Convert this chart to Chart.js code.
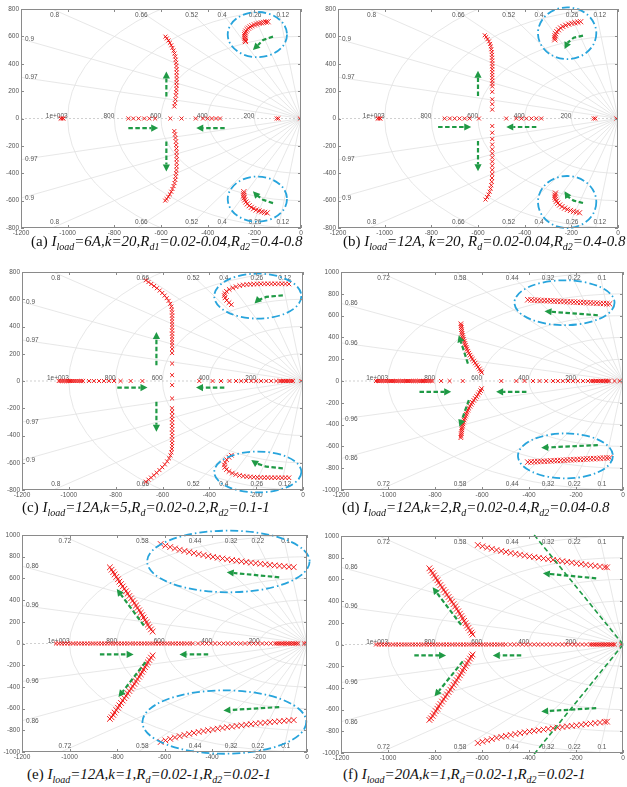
<!DOCTYPE html>
<html lang="en">
<head>
<meta charset="UTF-8" />
<title>Root loci for different load and droop settings</title>
<script src="https://cdn.jsdelivr.net/npm/chart.js"></script>
<style>
  body { margin: 0; width: 627px; height: 787px; background: #fff; overflow: hidden; position: relative; }
  canvas { position: absolute; }
  .cap { position: absolute; font-family: "Liberation Serif", "Times New Roman", serif; font-size: 15px; line-height: 17px; white-space: nowrap; color: #111; }
  .cap sub { font-size: 10px; line-height: 0; }
</style>
</head>
<body>
<canvas id="pa"></canvas>
<canvas id="pb"></canvas>
<canvas id="pc"></canvas>
<canvas id="pd"></canvas>
<canvas id="pe"></canvas>
<canvas id="pf"></canvas>

<div class="cap" style="left:31px;top:233px">(a) <i>I<sub>load</sub>=6A,k=20,R<sub>d1</sub>=0.02-0.04,R<sub>d2</sub>=0.4-0.8</i></div>
<div class="cap" style="left:343px;top:233px">(b) <i>I<sub>load</sub>=12A, k=20, R<sub>d</sub>=0.02-0.04,R<sub>d2</sub>=0.4-0.8</i></div>
<div class="cap" style="left:22px;top:499px">(c) <i>I<sub>load</sub>=12A,k=5,R<sub>d</sub>=0.02-0.2,R<sub>d2</sub>=0.1-1</i></div>
<div class="cap" style="left:342px;top:499px">(d) <i>I<sub>load</sub>=12A,k=2,R<sub>d</sub>=0.02-0.4,R<sub>d2</sub>=0.04-0.8</i></div>
<div class="cap" style="left:27px;top:766px">(e) <i>I<sub>load</sub>=12A,k=1,R<sub>d</sub>=0.02-1,R<sub>d2</sub>=0.02-1</i></div>
<div class="cap" style="left:343px;top:766px">(f) <i>I<sub>load</sub>=20A,k=1,R<sub>d</sub>=0.02-1,R<sub>d2</sub>=0.02-1</i></div>

<script>
// axes
const xTicks = [-1200, -1000, -800, -600, -400, -200, 0];
const yTicks800 = [-800, -600, -400, -200, 0, 200, 400, 600, 800];
const yTicks1000 = [-1000, -800, -600, -400, -200, 0, 200, 400, 600, 800, 1000];
const wnRings = [200, 400, 600, 800, 1000];
const zetaAC = [0.12, 0.26, 0.4, 0.52, 0.66, 0.8, 0.9, 0.97];
const zetaDF = [0.1, 0.22, 0.32, 0.44, 0.58, 0.72, 0.86, 0.96];

// (a)
const aReal = [-1030, -1024, -1018, -740, -719, -696, -672, -650, -625, -560, -512, -451, -420, -400, -382, -364, -347, -104, -97, -5];
const aUp = [[-581,598],[-575,585],[-568,570],[-562,553],[-556,535],[-551,516],[-546,496],[-542,475],[-539,453],[-537,430],[-535,407],[-534,384],[-533,360],[-533,336],[-533,312],[-533,288],[-533,264],[-533,240],[-534,216],[-535,192],[-536,168],[-538,140],[-540,112],[-543,88]];
const aLow = [[-543,-92],[-540,-116],[-538,-142],[-536,-168],[-535,-194],[-534,-220],[-533,-246],[-533,-272],[-533,-298],[-533,-324],[-533,-350],[-534,-376],[-535,-400],[-537,-424],[-539,-448],[-542,-472],[-546,-494],[-551,-515],[-556,-535],[-562,-554],[-569,-572],[-576,-588],[-582,-600]];
const aArcUp = [[-141,707],[-150,705],[-160,702],[-170,699],[-180,695],[-190,690],[-200,684],[-210,677],[-218,669],[-225,660],[-231,650],[-236,638],[-239,625],[-241,612],[-241,598],[-240,585],[-239,572],[-238,562]];
const aArcLow = [[-245,-535],[-246,-550],[-246,-565],[-244,-580],[-241,-595],[-236,-610],[-230,-624],[-222,-637],[-213,-649],[-203,-659],[-192,-668],[-180,-675],[-168,-681],[-156,-686],[-145,-690]];
const aRings = [[-187,613,127,165],[-187,-589,127,165]];
const aArrows = [
  [[-740,-70],[-612,-70]],
  [[-327,-70],[-449,-70]],
  [[-577,160],[-577,343]],
  [[-577,-168],[-577,-387]],
  [[-120,598],[-162,574],[-184,537],[-206,500]],
  [[-120,-618],[-163,-594],[-192,-557],[-206,-532]]
];

// (b)
const bReal = [-1030, -1024, -1018, -743, -721, -700, -679, -657, -636, -596, -479, -436, -414, -393, -371, -350, -329, -104, -97, -7];
const bUp = [[-571,608],[-565,595],[-559,580],[-553,563],[-548,545],[-545,526],[-543,506],[-541,486],[-540,465],[-540,444],[-539,423],[-539,402],[-539,381],[-539,360],[-539,339],[-539,318],[-539,297],[-539,276],[-539,255],[-539,234],[-539,195],[-539,140],[-539,105],[-539,65]];
const bLow = [[-539,-55],[-539,-104],[-539,-150],[-539,-190],[-539,-225],[-539,-255],[-539,-285],[-539,-315],[-539,-345],[-539,-375],[-539,-405],[-540,-435],[-541,-462],[-543,-488],[-546,-512],[-550,-535],[-555,-556],[-561,-575],[-568,-592]];
const bArcUp = [[-160,707],[-172,704],[-185,700],[-198,695],[-211,689],[-224,681],[-236,672],[-246,661],[-255,648],[-262,634],[-267,619],[-270,604],[-271,589],[-271,575]];
const bArcLow = [[-268,-545],[-270,-560],[-270,-575],[-268,-590],[-264,-605],[-258,-619],[-250,-632],[-240,-644],[-229,-655],[-217,-664],[-204,-672],[-191,-679],[-178,-684],[-165,-689]];
const bRings = [[-218,623,125,189],[-218,-610,125,190]];
const bArrows = [
  [[-771,-62],[-629,-62]],
  [[-350,-62],[-479,-62]],
  [[-600,165],[-600,348]],
  [[-600,-165],[-600,-385]],
  [[-150,605],[-190,590],[-215,555],[-229,507]],
  [[-150,-617],[-190,-600],[-215,-570],[-229,-531]]
];

// (c)
const cReal = [-1043, -1035, -1027, -1019, -1011, -1003, -995, -987, -979, -971, -963, -955, -947, -939, -914, -893, -871, -850, -829, -807, -779, -736, -686, -443, -386, -350, -314, -286, -264, -243, -221, -200, -179, -157, -136, -114, -100, -93, -86, -79, -72, -65, -58, -50, -43, -7];
const cUp = [[-671,739],[-660,726],[-648,712],[-636,697],[-624,681],[-612,664],[-601,646],[-591,627],[-582,608],[-574,588],[-567,567],[-562,546],[-560,524],[-559,502],[-559,480],[-559,458],[-559,436],[-559,414],[-559,392],[-559,370],[-559,348],[-559,326],[-559,304],[-559,282],[-559,260],[-559,235],[-559,205],[-559,128],[-559,43]];
const cLow = [[-559,-30],[-559,-128],[-559,-200],[-559,-228],[-559,-255],[-559,-280],[-559,-305],[-559,-330],[-559,-355],[-559,-380],[-559,-405],[-559,-430],[-559,-455],[-559,-478],[-560,-500],[-562,-524],[-566,-546],[-572,-568],[-580,-590],[-590,-612],[-601,-633],[-613,-654],[-625,-674],[-637,-692],[-649,-709],[-660,-724],[-671,-739]];
const cArcUp = [[-60,712],[-75,713],[-90,713],[-105,713],[-120,713],[-135,713],[-150,713],[-165,713],[-180,713],[-195,712],[-210,711],[-225,710],[-240,708],[-255,705],[-270,700],[-286,692],[-300,683],[-315,672],[-327,658],[-334,643],[-336,627],[-333,610],[-326,592],[-316,575],[-306,560]];
const cArcLow = [[-306,-545],[-316,-560],[-326,-578],[-333,-597],[-336,-616],[-334,-634],[-327,-650],[-316,-664],[-302,-676],[-287,-686],[-271,-693],[-255,-698],[-240,-702],[-225,-704],[-210,-706],[-195,-707],[-180,-708],[-165,-709],[-150,-709],[-135,-710],[-120,-710],[-105,-710],[-90,-710],[-75,-710],[-60,-710]];
const cRings = [[-193,623,186,165],[-193,-668,186,150]];
const cArrows = [
  [[-793,-48],[-664,-48]],
  [[-336,-48],[-457,-48]],
  [[-626,116],[-626,360]],
  [[-626,-153],[-626,-372]],
  [[-86,629],[-157,617],[-193,592],[-207,568]],
  [[-86,-641],[-157,-629],[-200,-604],[-221,-580]]
];

// (d)
const dReal = [-1051, -1043, -1035, -1027, -1019, -1011, -1003, -995, -987, -979, -971, -963, -955, -947, -939, -931, -923, -915, -907, -899, -891, -883, -875, -867, -859, -851, -843, -835, -827, -819, -811, -774, -738, -682, -518, -454, -419, -383, -355, -327, -298, -277, -256, -234, -213, -192, -170, -149, -135, -128, -121, -114, -107, -100, -93, -86, -79, -72, -65, -58, -36, -14];
const dUp = [[-690,525],[-689,507],[-688,489],[-687,471],[-686,453],[-685,435],[-683,417],[-681,399],[-679,381],[-676,363],[-673,345],[-670,327],[-667,309],[-664,291],[-660,273],[-656,255],[-651,237],[-646,219],[-641,201],[-635,183],[-629,165],[-623,147],[-617,129],[-611,111],[-606,93],[-602,78]];
const dLow = [[-602,-70],[-606,-88],[-611,-106],[-617,-124],[-623,-142],[-629,-160],[-635,-178],[-641,-196],[-646,-214],[-651,-232],[-656,-250],[-660,-268],[-664,-286],[-667,-304],[-670,-322],[-673,-340],[-676,-358],[-679,-376],[-681,-394],[-683,-412],[-685,-430],[-686,-448],[-687,-466],[-688,-484],[-689,-502],[-690,-520]];
const dBandUp = [[-405,745],[-391,744],[-377,742],[-363,741],[-349,739],[-335,738],[-321,736],[-307,735],[-293,733],[-279,732],[-265,730],[-251,729],[-237,727],[-223,726],[-209,724],[-195,723],[-181,721],[-167,720],[-153,718],[-139,717],[-125,715],[-111,714],[-97,712],[-83,711],[-69,709],[-57,708]];
const dBandLow = [[-405,-744],[-391,-742],[-377,-741],[-363,-739],[-349,-738],[-335,-736],[-321,-735],[-307,-733],[-293,-731],[-279,-730],[-265,-728],[-251,-727],[-237,-725],[-223,-723],[-209,-722],[-195,-720],[-181,-719],[-167,-717],[-153,-715],[-139,-714],[-125,-712],[-111,-711],[-97,-709],[-83,-707],[-69,-706],[-57,-705]];
const dRings = [[-249,718,213,206],[-245,-687,202,206]];
const dArrows = [
  [[-866,-99],[-731,-99]],
  [[-411,-99],[-540,-99]],
  [[-660,160],[-699,420]],
  [[-656,-175],[-696,-420]],
  [[-107,603],[-334,640]],
  [[-107,-588],[-348,-612]]
];

// (e)
const eReal = [-1057, -1045, -1033, -1021, -1009, -997, -985, -973, -961, -949, -937, -925, -913, -901, -889, -877, -865, -853, -841, -829, -817, -805, -793, -781, -769, -757, -745, -733, -721, -709, -697, -685, -673, -661, -649, -637, -625, -613, -601, -589, -577, -565, -553, -541, -529, -517, -505, -493, -481, -459, -441, -423, -405, -387, -369, -351, -333, -315, -297, -279, -261, -243, -225, -207, -189, -171, -153, -135, -128, -121, -114, -107, -100, -93, -86, -79, -72, -65, -58, -51, -44, -37, -12, -3];
const eUp = [[-830,702],[-823,680],[-816,658],[-810,636],[-803,614],[-796,592],[-790,570],[-783,548],[-776,526],[-769,504],[-762,482],[-755,460],[-748,438],[-741,416],[-734,394],[-727,372],[-720,350],[-714,328],[-707,306],[-700,284],[-694,262],[-688,240],[-682,218],[-676,196],[-670,174],[-664,152],[-657,130],[-650,110]];
const eLow = [[-650,-110],[-657,-130],[-664,-152],[-670,-174],[-676,-196],[-682,-218],[-688,-240],[-694,-262],[-700,-284],[-707,-306],[-714,-328],[-720,-350],[-727,-372],[-734,-394],[-741,-416],[-748,-438],[-755,-460],[-762,-482],[-769,-504],[-776,-526],[-783,-548],[-790,-570],[-796,-592],[-803,-614],[-810,-636],[-816,-658],[-823,-680],[-830,-695]];
const eBandUp = [[-616,917],[-596,902],[-576,889],[-556,876],[-536,864],[-516,853],[-496,843],[-476,833],[-456,824],[-436,815],[-416,806],[-396,798],[-376,790],[-356,783],[-336,776],[-316,769],[-296,763],[-276,757],[-256,751],[-236,745],[-216,740],[-196,735],[-176,730],[-156,725],[-136,720],[-116,716],[-96,711],[-76,707],[-56,703]];
const eBandLow = [[-616,-908],[-596,-893],[-576,-879],[-556,-866],[-536,-854],[-516,-843],[-496,-833],[-476,-824],[-456,-815],[-436,-807],[-416,-799],[-396,-792],[-376,-785],[-356,-778],[-336,-772],[-316,-766],[-296,-760],[-276,-754],[-256,-748],[-236,-743],[-216,-738],[-196,-733],[-176,-729],[-156,-725],[-136,-721],[-116,-717],[-96,-713],[-76,-709],[-56,-706]];
const eRings = [[-331,756,342,284],[-348,-724,345,292]];
const eArrows = [
  [[-872,-101],[-730,-101]],
  [[-416,-101],[-537,-101]],
  [[-687,166],[-801,503]],
  [[-680,-172],[-794,-494]],
  [[-117,610],[-338,656]],
  [[-117,-586],[-352,-617]]
];

// (f)
const fReal = [-1051, -1039, -1027, -1015, -1003, -991, -979, -967, -955, -943, -931, -919, -907, -895, -883, -871, -859, -847, -835, -823, -811, -799, -787, -775, -763, -751, -739, -727, -715, -703, -691, -679, -667, -655, -643, -631, -619, -607, -595, -583, -571, -559, -547, -535, -523, -511, -499, -480, -463, -446, -429, -412, -395, -378, -361, -344, -327, -310, -293, -276, -259, -242, -225, -208, -191, -174, -157, -140, -133, -126, -119, -112, -105, -98, -91, -84, -77, -70, -63, -56, -49, -42, -35, -8];
const fUp = [[-824,702],[-817,680],[-810,658],[-804,636],[-797,614],[-790,592],[-784,570],[-777,548],[-770,526],[-763,504],[-756,482],[-749,460],[-742,438],[-735,416],[-728,394],[-721,372],[-714,350],[-708,328],[-701,306],[-694,284],[-688,262],[-682,240],[-676,218],[-670,196],[-664,174],[-658,152],[-651,130],[-645,110],[-640,92]];
const fLow = [[-640,-92],[-645,-110],[-651,-130],[-658,-152],[-664,-174],[-670,-196],[-676,-218],[-682,-240],[-688,-262],[-694,-284],[-701,-306],[-708,-328],[-714,-350],[-721,-372],[-728,-394],[-735,-416],[-742,-438],[-749,-460],[-756,-482],[-763,-504],[-770,-526],[-777,-548],[-784,-570],[-790,-592],[-797,-614],[-804,-636],[-810,-658],[-817,-680],[-824,-695]];
const fBandUp = [[-618,917],[-598,905],[-578,893],[-558,882],[-538,871],[-518,862],[-498,853],[-478,844],[-458,836],[-438,828],[-418,820],[-398,812],[-378,805],[-358,799],[-338,793],[-318,786],[-298,780],[-278,774],[-258,768],[-238,762],[-218,755],[-198,748],[-178,742],[-158,736],[-138,730],[-118,724],[-98,718],[-78,713],[-68,711]];
const fBandLow = [[-618,-908],[-598,-896],[-578,-884],[-558,-872],[-538,-861],[-518,-851],[-498,-842],[-478,-833],[-458,-825],[-438,-817],[-418,-809],[-398,-802],[-378,-796],[-358,-790],[-338,-784],[-318,-778],[-298,-772],[-278,-766],[-258,-760],[-238,-755],[-218,-750],[-198,-745],[-178,-739],[-158,-734],[-138,-729],[-118,-724],[-98,-719],[-78,-713],[-68,-711]];
const fArrows = [
  [[-888,-101],[-753,-101]],
  [[-433,-101],[-554,-101]],
  [[-689,181],[-810,527]],
  [[-682,-156],[-802,-478]],
  [[-114,610],[-341,656]],
  [[-114,-586],[-348,-617]]
];
const fLines = [[[0,0],[-380,1015]], [[0,0],[-380,-1015]]];

// layout of the panels: plot box [left, top, right, bottom] in page pixels
const YW = 20, XH = 12, PT = 8, PR = 10;
const tickFont = { size: 6.5, family: '"Liberation Sans", Arial, sans-serif' };

const sgridPlugin = {
  id: 'sgrid',
  beforeDatasetsDraw(chart, args, opts) {
    const { ctx, chartArea: a, scales: { x, y } } = chart;
    const ox = x.getPixelForValue(0), oy = y.getPixelForValue(0);
    ctx.save();
    ctx.beginPath(); ctx.rect(a.left, a.top, a.right - a.left, a.bottom - a.top); ctx.clip();
    ctx.strokeStyle = '#e1e1e1'; ctx.lineWidth = 0.8;
    wnRings.forEach(w => {
      const rx = ox - x.getPixelForValue(-w), ry = oy - y.getPixelForValue(w);
      ctx.beginPath(); ctx.ellipse(ox, oy, rx, ry, 0, Math.PI / 2, Math.PI * 1.5); ctx.stroke();
    });
    opts.zetas.forEach(z => {
      const s = Math.sqrt(1 - z * z);
      [1, -1].forEach(sg => {
        ctx.beginPath(); ctx.moveTo(ox, oy);
        ctx.lineTo(x.getPixelForValue(-z * 5000), y.getPixelForValue(sg * s * 5000));
        ctx.stroke();
      });
    });
    ctx.setLineDash([2, 2]); ctx.strokeStyle = '#c4c4c4';
    ctx.beginPath(); ctx.moveTo(a.left, oy); ctx.lineTo(a.right, oy); ctx.stroke();
    ctx.restore();

    ctx.save();
    ctx.font = '6.5px "Liberation Sans", Arial, sans-serif';
    ctx.fillStyle = '#555';
    ctx.textAlign = 'right'; ctx.textBaseline = 'alphabetic';
    wnRings.forEach(w => ctx.fillText(w >= 1000 ? '1e+003' : String(w), x.getPixelForValue(-w), oy - 1));
    ctx.textBaseline = 'middle'; ctx.textAlign = 'left';
    opts.zetas.forEach(z => {
      const s = Math.sqrt(1 - z * z);
      const xt = -y.max * z / s;
      if (xt >= x.min) {
        const px = x.getPixelForValue(xt) - 2;
        ctx.fillText(String(z), px, a.top + 6);
        ctx.fillText(String(z), px, a.bottom - 6);
      } else {
        const yl = -x.min * s / z;
        ctx.fillText(String(z), a.left + 4, y.getPixelForValue(yl));
        ctx.fillText(String(z), a.left + 4, y.getPixelForValue(-yl));
      }
    });
    ctx.restore();
  }
};

const marksPlugin = {
  id: 'marks',
  afterDatasetsDraw(chart, args, opts) {
    const { ctx, scales: { x, y } } = chart;
    const P = p => [x.getPixelForValue(p[0]), y.getPixelForValue(p[1])];
    ctx.save();
    ctx.strokeStyle = '#27a4dc'; ctx.lineWidth = 1.8;
    ctx.setLineDash([8, 3, 1.5, 3]);
    (opts.rings || []).forEach(r => {
      const c = P([r[0], r[1]]);
      const rx = Math.abs(x.getPixelForValue(r[0] + r[2]) - c[0]);
      const ry = Math.abs(y.getPixelForValue(r[1] + r[3]) - c[1]);
      ctx.beginPath(); ctx.ellipse(c[0], c[1], rx, ry, 0, 0, Math.PI * 2); ctx.stroke();
    });
    ctx.strokeStyle = '#1f9a45'; ctx.fillStyle = '#1f9a45';
    ctx.lineWidth = 1.6; ctx.setLineDash([5, 3]);
    (opts.lines || []).forEach(l => {
      const p0 = P(l[0]), p1 = P(l[1]);
      ctx.beginPath(); ctx.moveTo(p0[0], p0[1]); ctx.lineTo(p1[0], p1[1]); ctx.stroke();
    });
    ctx.lineWidth = 2.2;
    (opts.arrows || []).forEach(pts => {
      const px = pts.map(P);
      const n = px.length;
      const [ex, ey] = px[n - 1], [sx, sy] = px[n - 2];
      const ang = Math.atan2(ey - sy, ex - sx);
      const hl = 7, hw = 3.6;
      ctx.setLineDash([4.5, 2.5]);
      ctx.beginPath(); ctx.moveTo(px[0][0], px[0][1]);
      for (let i = 1; i < n - 1; i++) ctx.lineTo(px[i][0], px[i][1]);
      ctx.lineTo(ex - hl * Math.cos(ang), ey - hl * Math.sin(ang));
      ctx.stroke();
      ctx.setLineDash([]);
      ctx.beginPath();
      ctx.moveTo(ex, ey);
      ctx.lineTo(ex - hl * Math.cos(ang) - hw * Math.sin(ang), ey - hl * Math.sin(ang) + hw * Math.cos(ang));
      ctx.lineTo(ex - hl * Math.cos(ang) + hw * Math.sin(ang), ey - hl * Math.sin(ang) - hw * Math.cos(ang));
      ctx.closePath(); ctx.fill();
    });
    ctx.restore();
  },
  afterDraw(chart) {
    const { ctx, chartArea: a, scales: { x, y } } = chart;
    ctx.save();
    ctx.strokeStyle = '#8a8a8a'; ctx.lineWidth = 1;
    ctx.strokeRect(a.left + 0.5, a.top + 0.5, a.right - a.left - 1, a.bottom - a.top - 1);
    ctx.beginPath();
    x.ticks.forEach(t => {
      const px = Math.round(x.getPixelForValue(t.value)) + 0.5;
      ctx.moveTo(px, a.bottom); ctx.lineTo(px, a.bottom - 3);
      ctx.moveTo(px, a.top); ctx.lineTo(px, a.top + 3);
    });
    y.ticks.forEach(t => {
      const py = Math.round(y.getPixelForValue(t.value)) + 0.5;
      ctx.moveTo(a.left, py); ctx.lineTo(a.left + 3, py);
      ctx.moveTo(a.right, py); ctx.lineTo(a.right - 3, py);
    });
    ctx.stroke();
    ctx.restore();
  }
};

function toPts(arr) {
  return arr.map(p => Array.isArray(p) ? { x: p[0], y: p[1] } : { x: p, y: 0 });
}

function makePanel(id, box, yLim, zetas, sets, rings, arrows, lines) {
  const [L, T, R, B] = box;
  const cv = document.getElementById(id);
  cv.width = R - L + YW + PR;
  cv.height = B - T + PT + XH;
  cv.style.left = (L - YW) + 'px';
  cv.style.top = (T - PT) + 'px';
  const yTicks = yLim === 800 ? yTicks800 : yTicks1000;
  new Chart(cv, {
    type: 'scatter',
    data: {
      datasets: sets.map(s => ({
        data: toPts(s[0]),
        pointStyle: 'crossRot',
        pointRadius: s[1],
        borderColor: 'rgba(240,10,10,0.9)',
        backgroundColor: 'rgba(0,0,0,0)',
        borderWidth: 1,
        showLine: false
      }))
    },
    options: {
      responsive: false,
      animation: false,
      events: [],
      layout: { padding: { left: 0, top: PT, right: PR, bottom: 0 } },
      plugins: {
        legend: { display: false },
        tooltip: { enabled: false },
        sgrid: { zetas: zetas },
        marks: { rings: rings, arrows: arrows, lines: lines }
      },
      scales: {
        x: {
          type: 'linear', min: -1200, max: 0,
          afterBuildTicks: s => { s.ticks = xTicks.map(v => ({ value: v })); },
          afterFit: s => { s.height = XH; },
          grid: { display: false, drawTicks: false, tickLength: 0 }, border: { display: false },
          ticks: { font: tickFont, color: '#555', padding: 1, maxRotation: 0, autoSkip: false, callback: v => String(v) }
        },
        y: {
          type: 'linear', min: -yLim, max: yLim,
          afterBuildTicks: s => { s.ticks = yTicks.map(v => ({ value: v })); },
          afterFit: s => { s.width = YW; },
          grid: { display: false, drawTicks: false, tickLength: 0 }, border: { display: false },
          ticks: { font: tickFont, color: '#555', padding: 2, autoSkip: false, callback: v => String(v) }
        }
      }
    },
    plugins: [sgridPlugin, marksPlugin]
  });
}

makePanel('pa', [21, 9, 301, 228], 800, zetaAC,
  [[aReal, 2.8], [aUp, 2.8], [aLow, 2.8], [aArcUp, 3.6], [aArcLow, 3.6]], aRings, aArrows, []);
makePanel('pb', [338, 9, 618, 228], 800, zetaAC,
  [[bReal, 2.8], [bUp, 2.8], [bLow, 2.8], [bArcUp, 3.6], [bArcLow, 3.6]], bRings, bArrows, []);
makePanel('pc', [22, 272, 303, 490], 800, zetaAC,
  [[cReal, 2.8], [cUp, 2.8], [cLow, 2.8], [cArcUp, 3.2], [cArcLow, 3.2]], cRings, cArrows, []);
makePanel('pd', [341, 272, 623, 490], 1000, zetaDF,
  [[dReal, 2.8], [dUp, 3.2], [dLow, 3.2], [dBandUp, 3.8], [dBandLow, 3.8]], dRings, dArrows, []);
makePanel('pe', [22, 535, 307, 752], 1000, zetaDF,
  [[eReal, 2.8], [eUp, 4], [eLow, 4], [eBandUp, 4], [eBandLow, 4]], eRings, eArrows, []);
makePanel('pf', [341, 536, 623, 753], 1000, zetaDF,
  [[fReal, 2.8], [fUp, 4], [fLow, 4], [fBandUp, 4], [fBandLow, 4]], [], fArrows, fLines);
</script>
</body>
</html>
